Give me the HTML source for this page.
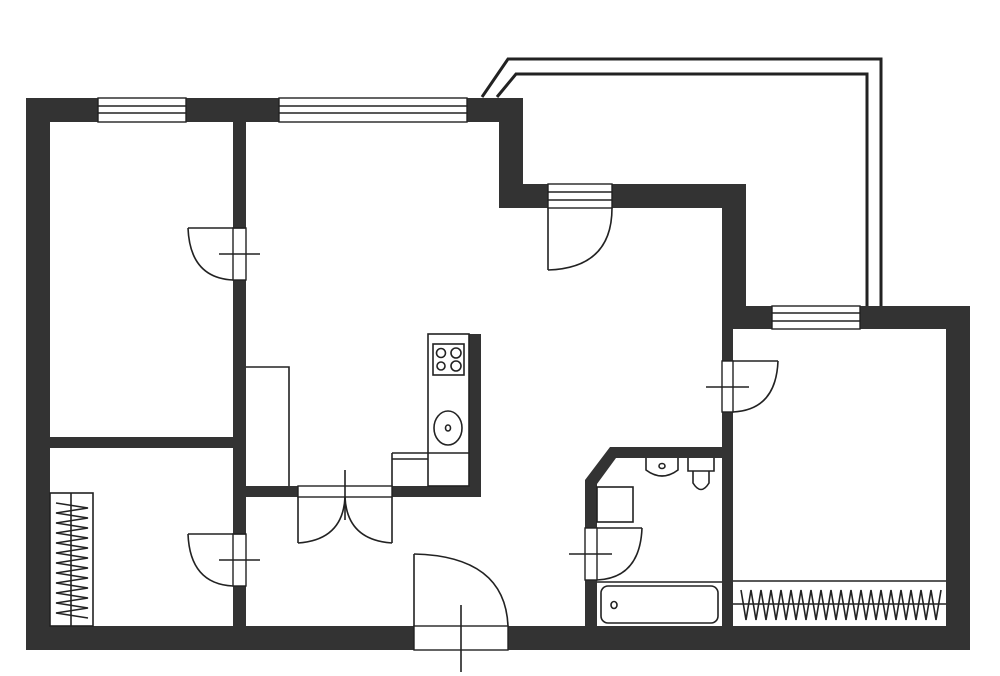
<!DOCTYPE html>
<html><head><meta charset="utf-8"><style>html,body{margin:0;padding:0;background:#fff}svg{display:block}</style></head>
<body>
<svg width="1000" height="676" viewBox="0 0 1000 676" xmlns="http://www.w3.org/2000/svg">
<g fill="#333" stroke="none">
<rect x="26" y="98" width="497" height="24"/>
<rect x="26" y="98" width="24" height="552"/>
<rect x="499" y="98" width="24" height="110"/>
<rect x="499" y="184" width="247" height="24"/>
<rect x="722" y="184" width="24" height="145"/>
<rect x="722" y="306" width="248" height="23"/>
<rect x="946" y="306" width="24" height="344"/>
<rect x="26" y="626" width="944" height="24"/>
<rect x="722" y="329" width="11" height="297"/>
<rect x="233" y="122" width="13" height="504"/>
<rect x="50" y="437" width="183" height="11"/>
<rect x="246" y="486" width="235" height="11"/>
<rect x="469" y="334" width="12" height="163"/>
<polygon points="610,447 722,447 722,458 616,458 597,484 597,626 585,626 585,480"/>
</g>
<g fill="#fff" stroke="#222" stroke-width="1.4">
<rect x="98" y="98" width="88" height="24"/><line x1="98" y1="106" x2="186" y2="106"/><line x1="98" y1="113" x2="186" y2="113"/>
<rect x="279" y="98" width="188" height="24"/><line x1="279" y1="106" x2="467" y2="106"/><line x1="279" y1="113" x2="467" y2="113"/>
<rect x="548" y="184" width="64" height="24"/><line x1="548" y1="192" x2="612" y2="192"/><line x1="548" y1="200" x2="612" y2="200"/>
<rect x="772" y="306" width="88" height="23"/><line x1="772" y1="313" x2="860" y2="313"/><line x1="772" y1="321" x2="860" y2="321"/>
<rect x="233" y="228" width="13" height="52"/>
<rect x="233" y="534" width="13" height="52"/>
<rect x="722" y="361" width="11" height="51"/>
<rect x="585" y="528" width="12" height="52"/>
<rect x="298" y="486" width="94" height="11"/>
<rect x="414" y="626" width="94" height="24"/>
</g>
<g fill="none" stroke="#222" stroke-width="3">
<polyline points="482,97 508,59 881,59 881,306"/>
<polyline points="497,97 516,74 867,74 867,306"/>
</g>
<g fill="none" stroke="#222" stroke-width="1.6">
<line x1="188" y1="228" x2="246" y2="228"/><path d="M188,228 Q190,278 233,280"/><line x1="219" y1="254" x2="260" y2="254"/>
<line x1="188" y1="534" x2="246" y2="534"/><path d="M188,534 Q190,584 233,586"/><line x1="219" y1="560" x2="260" y2="560"/>
<line x1="548" y1="208" x2="548" y2="270"/><path d="M612,208 Q612,268 548,270"/>
<line x1="733" y1="361" x2="778" y2="361"/><path d="M778,361 Q776,410 733,412"/><line x1="706" y1="387" x2="749" y2="387"/>
<line x1="597" y1="528" x2="642" y2="528"/><path d="M642,528 Q640,578 597,580"/><line x1="569" y1="554" x2="612" y2="554"/>
<line x1="414" y1="554" x2="414" y2="626"/><path d="M414,554 Q505,556 508,626"/><line x1="461" y1="605" x2="461" y2="672"/>
<line x1="298" y1="497" x2="298" y2="543"/><path d="M298,543 Q343,540 345,497"/>
<line x1="392" y1="497" x2="392" y2="543"/><path d="M392,543 Q347,540 345,497"/>
<line x1="345" y1="470" x2="345" y2="520"/>
<polyline points="246,367 289,367 289,486"/>
<rect x="428" y="334" width="41" height="152"/>
<rect x="433" y="344" width="31" height="31"/>
<circle cx="441" cy="353" r="4.5"/><circle cx="456" cy="353" r="5"/><circle cx="441" cy="366" r="4"/><circle cx="456" cy="366" r="5"/>
<ellipse cx="448" cy="428" rx="14" ry="17"/><ellipse cx="448" cy="428" rx="2.5" ry="3"/>
<line x1="392" y1="453" x2="469" y2="453"/><line x1="392" y1="459" x2="428" y2="459"/><line x1="392" y1="453" x2="392" y2="486"/>
<rect x="50" y="493" width="43" height="133"/>
<line x1="71" y1="493" x2="71" y2="626"/>
<polyline points="56,503 88,508 56,513 88,518 56,523 88,528 56,533 88,538 56,543 88,548 56,553 88,558 56,563 88,568 56,573 88,578 56,583 88,588 56,593 88,598 56,603 88,608 56,613 88,618"/>
<rect x="597" y="487" width="36" height="35"/>
<path d="M646,458 L646,470 Q662,482 678,470 L678,458"/><ellipse cx="662" cy="466" rx="3" ry="2.5"/>
<path d="M688,458 L688,471 L714,471 L714,458"/><path d="M693,471 L693,483 Q701,496 709,483 L709,471"/>
<line x1="597" y1="582" x2="722" y2="582"/>
<rect x="601" y="586" width="117" height="37" rx="7"/><ellipse cx="614" cy="605" rx="3" ry="3.5"/>
<line x1="733" y1="581" x2="946" y2="581"/>
<line x1="733" y1="604" x2="946" y2="604"/>
<polyline points="741,590 746,620 751,590 756,620 761,590 766,620 771,590 776,620 781,590 786,620 791,590 796,620 801,590 806,620 811,590 816,620 821,590 826,620 831,590 836,620 841,590 846,620 851,590 856,620 861,590 866,620 871,590 876,620 881,590 886,620 891,590 896,620 901,590 906,620 911,590 916,620 921,590 926,620 931,590 936,620 941,590"/>
</g>
</svg>
</body></html>
